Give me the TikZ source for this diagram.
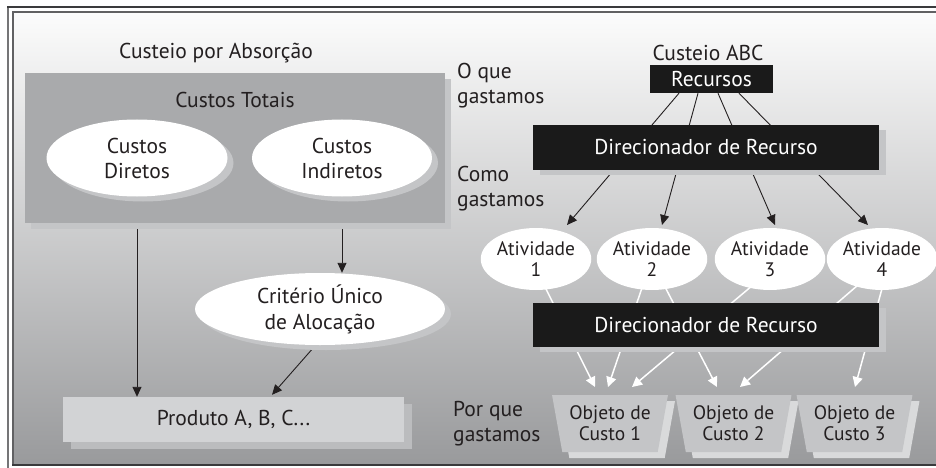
\documentclass[tikz,border=0pt]{standalone}
\usepackage{fontspec}
\setmainfont{PT Sans}
\usetikzlibrary{shapes.geometric,arrows.meta,calc,shadows}
\pgfdeclarelayer{bg}
\pgfdeclarelayer{lines}
\pgfsetlayers{bg,lines,main}
\definecolor{ink}{HTML}{231F20}
\definecolor{shd}{HTML}{C4C5C7}
\definecolor{boxgrey}{HTML}{A9AAAC}
\definecolor{prodgrey}{HTML}{D2D3D5}
\definecolor{prodshd}{HTML}{BBBCBE}
\definecolor{objgrey}{HTML}{C4C5C7}
\definecolor{objshd}{HTML}{D9DADB}
\definecolor{bgtop}{HTML}{FCFCFC}
\definecolor{bgbot}{HTML}{999A9C}
\definecolor{framecol}{HTML}{3A3A3C}
\definecolor{darkfill}{HTML}{1A1A1A}
\begin{document}
\begin{tikzpicture}[x=1pt,y=-1pt,
  font=\fontsize{21.5}{25}\selectfont, text=ink,
  lbl/.style={align=left, anchor=west, inner sep=0pt},
  ttl/.style={inner sep=0pt},
  oval/.style={ellipse, fill=white, inner sep=0pt, align=center},
  ovalshadow/.style={drop shadow={shadow xshift=6pt, shadow yshift=-5pt, fill=shd, opacity=1}},
  darkbox/.style={rectangle, fill=darkfill, text=white, inner sep=0pt},
  darkshadow/.style={drop shadow={shadow xshift=7pt, shadow yshift=-5pt, fill=shd, opacity=1}},
  actv/.style={oval, minimum width=108pt, minimum height=62pt, font=\fontsize{19.5}{21}\selectfont},
  obj/.style={trapezium, trapezium stretches=true, trapezium angle=76, shape border rotate=180,
    minimum width=116pt, minimum height=57pt, inner sep=0pt, fill=objgrey, align=center,
    font=\fontsize{19.5}{21}\selectfont,
    drop shadow={shadow xshift=7pt, shadow yshift=-6pt, fill=objshd, opacity=1}},
  arr/.style={draw=ink, line width=0.9pt, -{Triangle[length=10pt,width=9pt]}},
  warr/.style={draw=white, line width=1.5pt, -{Triangle[length=10pt,width=10pt]}}
]
\useasboundingbox (0,0) rectangle (936,468);

% ---------- left: Custeio por Absorcao ----------
\node[ttl] (tabs) at (216,53) {Custeio por Absorção};
\node[fill=boxgrey, minimum width=420pt, minimum height=150pt, inner sep=0pt,
  drop shadow={shadow xshift=6pt, shadow yshift=-6pt, fill=shd, opacity=1}] (tot) at (235,148) {};
\node[ttl] (totl) at (235,100) {Custos Totais};
\node[oval, ovalshadow, minimum width=181pt, minimum height=77pt] (dir) at (137,158) {Custos\\Diretos};
\node[oval, ovalshadow, minimum width=180pt, minimum height=77pt] (ind) at (342,158) {Custos\\Indiretos};
\node[oval, ovalshadow, minimum width=250pt, minimum height=72pt, font=\fontsize{21.5}{26}\selectfont] (crit) at (320,309) {Critério Único\\de Alocação};
\node[fill=prodgrey, minimum width=341pt, minimum height=45pt, inner sep=0pt,
  drop shadow={shadow xshift=8pt, shadow yshift=-7pt, fill=prodshd, opacity=1}] (prod) at (233.5,419.5) {Produto A, B, C...};

% ---------- right: Custeio ABC ----------
\node[lbl] (q1) at (457,86) {O que\\gastamos};
\node[lbl] (q2) at (457,189) {Como\\gastamos};
\node[lbl] (q3) at (453,424) {Por que\\gastamos};
\node[ttl] (abc) at (708,53) {Custeio ABC};
\node[darkbox, minimum width=123pt, minimum height=28pt] (rec) at (711.5,79) {Recursos};
\node[darkbox, darkshadow, minimum width=346pt, minimum height=45pt] (dr1) at (706,147.5) {Direcionador de Recurso};
\node[actv] (a1) at (536,259) {Atividade\\1};
\node[actv] (a2) at (652,259) {Atividade\\2};
\node[actv] (a3) at (770,259) {Atividade\\3};
\node[actv] (a4) at (882,259) {Atividade\\4};
\node[darkbox, darkshadow, minimum width=346pt, minimum height=44pt] (dr2) at (706,325) {Direcionador de Recurso};
\node[obj] (o1) at (610,423.5) {Objeto de\\Custo 1};
\node[obj] (o2) at (733.5,423.5) {Objeto de\\Custo 2};
\node[obj] (o3) at (854.5,423.5) {Objeto de\\Custo 3};

% ---------- connectors ----------
\begin{pgfonlayer}{lines}
\draw[arr] (dir.south) -- (dir.south |- prod.north);
\draw[arr] (ind.south) -- (ind.south |- crit.north);
\draw[arr] ($(crit.south)+(0,-5)$) -- ($(prod.north)+(38.5,-2)$);

\draw[arr] ($(rec.south)+(-32.5,0)$) -- ($(a1.center)+(31,-34)$);
\draw[arr] ($(rec.south)+(-13.5,0)$) -- ($(a2.center)+(10,-34)$);
\draw[arr] ($(rec.south)+(6.5,0)$) -- ($(a3.center)+(5,-34)$);
\draw[arr] ($(rec.south)+(27.5,0)$) -- ($(a4.center)+(-14,-34)$);

\draw[warr] ($(a1.center)+(8,26)$) -- ($(o1.center)+(-15,-36.5)$);
\draw[warr] ($(a2.center)+(-9,26)$) -- ($(o1.center)+(-2,-36.5)$);
\draw[warr] ($(a3.center)+(-17,26)$) -- ($(o1.center)+(22,-36.5)$);
\draw[warr] ($(a2.center)+(12,26)$) -- ($(o2.center)+(-16.5,-36.5)$);
\draw[warr] ($(a4.center)+(-24,26)$) -- ($(o2.center)+(6.5,-36.5)$);
\draw[warr] ($(a4.center)+(1,26)$) -- ($(o3.center)+(0.5,-36.5)$);
\end{pgfonlayer}

% ---------- background and frame ----------
\begin{pgfonlayer}{bg}
\fill[white] (0,0) rectangle (936,468);
\fill[top color=bgtop, bottom color=bgbot] (13,12) rectangle (936,465);
\draw[framecol!70, line width=1.6pt] (8,468) -- (8,7);
\draw[framecol, line width=1.6pt] (7.2,7) -- (936,7);
\draw[framecol!80, line width=1.3pt] (13,465) -- (13,12) -- (936,12);
\draw[framecol, line width=2pt] (12.4,465) -- (936,465);
\end{pgfonlayer}
\end{tikzpicture}
\end{document}
